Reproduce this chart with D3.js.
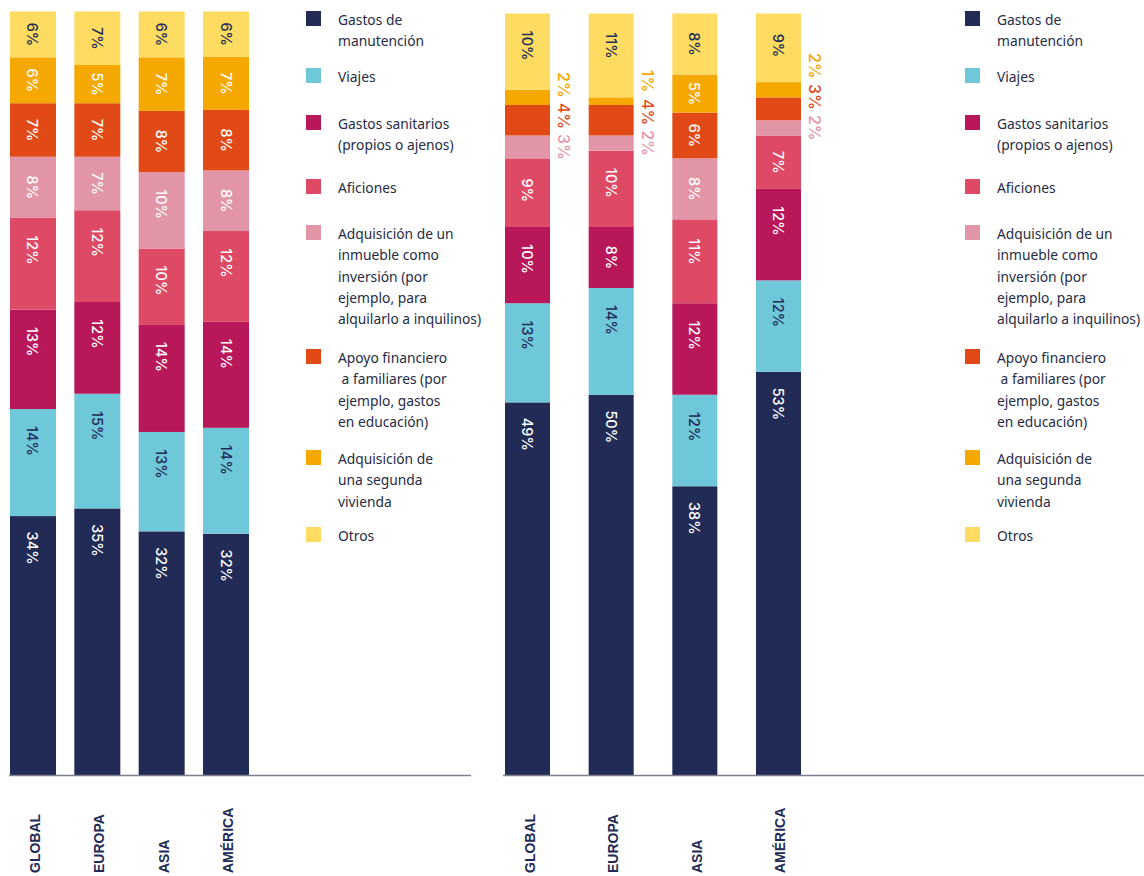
<!DOCTYPE html>
<html>
<head>
<meta charset="utf-8">
<script src="https://cdn.jsdelivr.net/npm/d3@7"></script>
<style>
    body { margin: 0; background: #fff; }
    svg { display: block; font-family: "Noto Sans", sans-serif; }
    .legend text { white-space: pre; }
</style>
</head>
<body>
<div id="chart"></div>
<script>
const categories = ['GLOBAL', 'EUROPA', 'ASIA', 'AMÉRICA'];
const seriesKeys = ['manutencion', 'viajes', 'sanitarios', 'aficiones', 'inmueble', 'apoyo', 'vivienda', 'otros'];
const seriesColors = ['#212b55', '#6fc7da', '#b8175a', '#de4a65', '#e395a8', '#e14a16', '#f5a800', '#fedc62'];
const legendLines = [
    ['Gastos de', 'manutención'],
    ['Viajes'],
    ['Gastos sanitarios', '(propios o ajenos)'],
    ['Aficiones'],
    ['Adquisición de un', 'inmueble como', 'inversión (por', 'ejemplo, para', 'alquilarlo a inquilinos)'],
    ['Apoyo financiero', ' a familiares (por', 'ejemplo, gastos', 'en educación)'],
    ['Adquisición de', 'una segunda', 'vivienda'],
    ['Otros']
];

// values in % for each category, in seriesKeys order
const leftGlobal = [34, 14, 13, 12, 8, 7, 6, 6];
const leftEuropa = [35, 15, 12, 12, 7, 7, 5, 7];
const leftAsia = [32, 13, 14, 10, 10, 8, 7, 6];
const leftAmerica = [32, 14, 14, 12, 8, 8, 7, 6];

const rightGlobal = [49, 13, 10, 9, 3, 4, 2, 10];
const rightEuropa = [50, 14, 8, 10, 2, 4, 1, 11];
const rightAsia = [38, 12, 12, 11, 8, 6, 5, 8];
const rightAmerica = [53, 12, 12, 7, 2, 3, 2, 9];

// legend item tops (layout only)
const legendTop = [11, 68, 115, 179, 225, 349, 450, 527];

const width = 1144, height = 876, baseY = 776;
const darkText = ['viajes', 'otros'];
const labelFont = 'Inter, "Noto Sans", sans-serif';

const svg = d3.select('#chart').append('svg')
    .attr('width', width)
    .attr('height', height);

function toRows(list) {
    return categories.map((c, i) => {
        const row = {cat: c};
        seriesKeys.forEach((k, j) => row[k] = list[i][j]);
        return row;
    });
}

function drawPanel(rows, opt) {
    const g = svg.append('g');

    const x = d3.scaleBand()
        .domain(categories)
        .range(opt.xRange)
        .paddingInner(opt.padding)
        .paddingOuter(0)
        .align(0);

    const y = d3.scaleLinear()
        .domain([0, 1])
        .range([baseY, opt.top]);

    const stacked = d3.stack()
        .keys(seriesKeys)
        .offset(d3.stackOffsetExpand)(rows);

    const layer = g.selectAll('.layer')
        .data(stacked)
        .join('g')
        .attr('class', 'layer')
        .attr('fill', (d, i) => seriesColors[i]);

    layer.selectAll('rect')
        .data(d => d)
        .join('rect')
        .attr('x', d => x(d.data.cat))
        .attr('y', d => y(d[1]))
        .attr('width', x.bandwidth())
        .attr('height', d => y(d[0]) - y(d[1]));

    // labels
    const inside = [], outside = {};
    stacked.forEach((s, i) => {
        s.forEach(d => {
            const v = d.data[s.key];
            const top = y(d[1]), h = y(d[0]) - y(d[1]);
            const item = {v, key: s.key, color: seriesColors[i], cat: d.data.cat,
                cy: top + Math.min(h / 2, 32), mid: top + h / 2};
            if (v >= 5) inside.push(item);
            else (outside[item.cat] = outside[item.cat] || []).push(item);
        });
    });

    g.selectAll('.in-label')
        .data(inside)
        .join('text')
        .attr('class', 'in-label')
        .attr('transform', d => 'translate(' + (x(d.cat) + x.bandwidth() / 2) + ',' + d.cy + ') rotate(90)')
        .attr('text-anchor', 'middle')
        .attr('dominant-baseline', 'central')
        .attr('font-family', labelFont)
        .attr('font-weight', 500)
        .attr('font-size', 14.5)
        .attr('fill', d => darkText.includes(d.key) ? '#212b55' : '#fff')
        .text(d => d.v + '%');

    Object.values(outside).forEach(list => {
        let prev = Infinity;
        list.forEach(d => {
            d.ly = Math.min(d.mid, prev - 31);
            prev = d.ly;
        });
        g.selectAll(null)
            .data(list)
            .join('text')
            .attr('transform', d => 'translate(' + (x(d.cat) + x.bandwidth() + 14) + ',' + d.ly + ') rotate(90)')
            .attr('text-anchor', 'middle')
            .attr('dominant-baseline', 'central')
            .attr('font-family', labelFont)
            .attr('font-weight', 500)
            .attr('font-size', 16)
            .attr('fill', d => d.color)
            .text(d => d.v + '%');
    });

    // baseline
    g.append('line')
        .attr('x1', opt.lineX[0])
        .attr('x2', opt.lineX[1])
        .attr('y1', baseY - 0.5)
        .attr('y2', baseY - 0.5)
        .attr('stroke', '#7d7f8c')
        .attr('stroke-width', 1.5);

    // category labels
    g.selectAll('.cat')
        .data(categories)
        .join('text')
        .attr('class', 'cat')
        .attr('transform', d => 'translate(' + (x(d) + x.bandwidth() / 2 + 2) + ',873) rotate(-90)')
        .attr('dominant-baseline', 'central')
        .attr('font-family', '"Liberation Sans", Arial, sans-serif')
        .attr('font-weight', 'bold')
        .attr('font-size', 14)
        .attr('fill', '#212b55')
        .text(d => d);

    // legend
    const legend = g.append('g')
        .attr('class', 'legend')
        .attr('transform', 'translate(' + opt.legendX + ',0)');

    const item = legend.selectAll('.item')
        .data(seriesKeys)
        .join('g')
        .attr('class', 'item')
        .attr('transform', (d, i) => 'translate(0,' + legendTop[i] + ')');

    item.append('rect')
        .attr('width', 15)
        .attr('height', 15)
        .attr('fill', (d, i) => seriesColors[i]);

    item.append('text')
        .attr('font-size', 13.8)
        .attr('fill', '#262b45')
        .selectAll('tspan')
        .data((d, i) => legendLines[i])
        .join('tspan')
        .attr('x', 32)
        .attr('y', (d, i) => 14 + i * 21.3)
        .text(d => d);
}

drawPanel(toRows([leftGlobal, leftEuropa, leftAsia, leftAmerica]), {
    xRange: [10, 249],
    padding: 0.285,
    top: 11.5,
    lineX: [9, 471],
    legendX: 306
});

drawPanel(toRows([rightGlobal, rightEuropa, rightAsia, rightAmerica]), {
    xRange: [505, 801],
    padding: 0.462,
    top: 13.5,
    lineX: [503, 1144],
    legendX: 965
});
</script>
</body>
</html>
